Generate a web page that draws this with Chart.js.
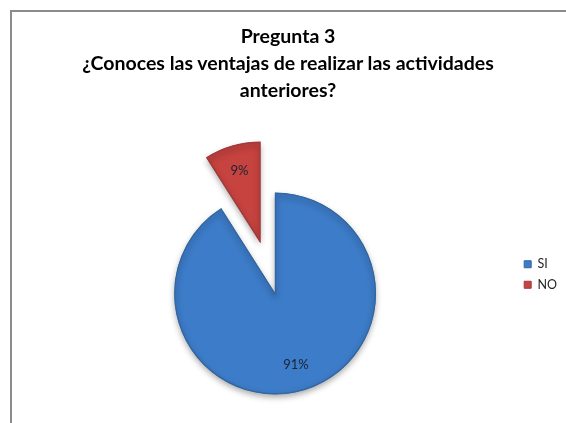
<!DOCTYPE html>
<html>
<head>
<meta charset="utf-8">
<script src="https://cdn.jsdelivr.net/npm/chart.js@4/dist/chart.umd.min.js"></script>
<style>
  html, body { margin: 0; padding: 0; background: #fff; overflow: hidden; }
  #chartBox {
    position: absolute;
    left: 10px;
    top: 10px;
    width: 600px;
    height: 411px;
    border-left: 2px solid #8c8c8c;
    border-top: 2px solid #8c8c8c;
  }
  #chartTitle {
    position: absolute;
    left: 12px;
    top: 22px;
    width: 552px;
    text-align: center;
    font-family: Lato, sans-serif;
    font-weight: bold;
    font-size: 19.5px;
    line-height: 27px;
    color: #000;
  }
</style>
</head>
<body>
<div id="chartBox"><canvas id="dataChart"></canvas></div>
<div id="chartTitle"></div>
<script>
var titleLines = ['Pregunta 3', '¿Conoces las ventajas de realizar las actividades', 'anteriores?'];
var categories = ['SI', 'NO'];
var percentages = [91, 9];
var sliceColors = ['#3d7cc9', '#c6433f'];
var edgeColors = ['#33669f', '#a3393a'];

// pulls one slice out from the centre along its middle angle
var explodePlugin = {
  id: 'explode',
  afterDatasetsUpdate: function(chart, args, opts) {
    var meta = chart.getDatasetMeta(0);
    meta.data.forEach(function(arc, i) {
      if (i !== opts.index) return;
      var mid = (arc.startAngle + arc.endAngle) / 2;
      arc.x += Math.cos(mid) * opts.distance;
      arc.y += Math.sin(mid) * opts.distance;
    });
  }
};

// soft drop shadow under the pie
var shadowPlugin = {
  id: 'pieShadow',
  beforeDatasetsDraw: function(chart) {
    var ctx = chart.ctx;
    ctx.save();
    ctx.shadowColor = 'rgba(0, 0, 0, 0.35)';
    ctx.shadowBlur = 6;
    ctx.shadowOffsetY = 3;
  },
  afterDatasetsDraw: function(chart) {
    chart.ctx.restore();
  }
};

// percentage text inside each slice
var valueLabels = {
  id: 'valueLabels',
  afterDatasetsDraw: function(chart, args, opts) {
    var ctx = chart.ctx;
    var meta = chart.getDatasetMeta(0);
    ctx.save();
    ctx.font = opts.font;
    ctx.fillStyle = opts.color;
    ctx.textAlign = 'center';
    ctx.textBaseline = 'middle';
    meta.data.forEach(function(arc, i) {
      var mid = (arc.startAngle + arc.endAngle) / 2;
      var r = arc.outerRadius * opts.position;
      ctx.fillText(percentages[i] + '%', arc.x + Math.cos(mid) * r, arc.y + Math.sin(mid) * r);
    });
    ctx.restore();
  }
};

function createChart() {
  var ctx = document.getElementById('dataChart');
  return new Chart(ctx, {
    type: 'pie',
    data: {
      labels: categories,
      datasets: [{
        data: percentages,
        backgroundColor: sliceColors,
        borderColor: edgeColors,
        borderWidth: 1,
        borderAlign: 'inner'
      }]
    },
    options: {
      responsive: true,
      maintainAspectRatio: false,
      animation: false,
      radius: 101,
      layout: {
        padding: { left: 22, right: 45, top: 238, bottom: 86 }
      },
      plugins: {
        legend: {
          position: 'right',
          align: 'start',
          fullSize: false,
          labels: {
            boxWidth: 7,
            boxHeight: 7,
            padding: 8,
            color: '#262626',
            font: { family: 'Lato', size: 12.5 }
          }
        },
        tooltip: { enabled: false },
        explode: { index: 1, distance: 53 },
        valueLabels: { font: '13px Lato', color: '#1c2333', position: 0.74 }
      }
    },
    plugins: [explodePlugin, shadowPlugin, valueLabels]
  });
}

document.getElementById('chartTitle').innerHTML = titleLines.join('<br>');
createChart();
</script>
</body>
</html>
